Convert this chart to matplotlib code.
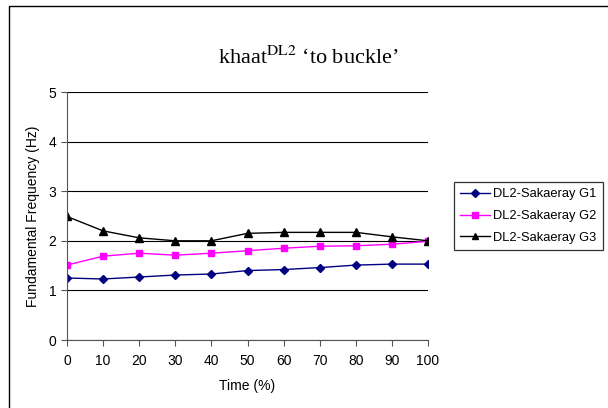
import matplotlib
matplotlib.use("Agg")
import matplotlib.pyplot as plt
from matplotlib.patches import Rectangle

time_pct = [0, 10, 20, 30, 40, 50, 60, 70, 80, 90, 100]
g1 = [1.25, 1.23, 1.27, 1.31, 1.33, 1.40, 1.42, 1.46, 1.51, 1.53, 1.53]
g2 = [1.51, 1.69, 1.75, 1.71, 1.75, 1.80, 1.85, 1.89, 1.90, 1.93, 1.99]
g3 = [2.49, 2.20, 2.06, 2.00, 2.00, 2.15, 2.17, 2.17, 2.17, 2.08, 2.00]
labels = ["DL2-Sakaeray G1", "DL2-Sakaeray G2", "DL2-Sakaeray G3"]

plt.rcParams['font.family'] = ['Liberation Sans', 'DejaVu Sans']

fig = plt.figure(figsize=(6.08, 4.08), dpi=100)
W, H = 608, 408
ax = fig.add_axes([67 / W, 1 - 340 / H, (428 - 67) / W, (340 - 92) / H])

# outer chart frame (right/bottom edges run off the image)
fig.patches.append(Rectangle((9 / W, -0.1), 1.2, 1.1 - 6 / H, transform=fig.transFigure,
                             fill=False, edgecolor='black', linewidth=1.0))

ax.plot(time_pct, g1, color='#000080', marker='D', markersize=4.5, linewidth=1.0, label=labels[0])
ax.plot(time_pct, g2, color='#FF00FF', marker='s', markersize=5, linewidth=1.0, label=labels[1])
ax.plot(time_pct, g3, color='black', marker='^', markersize=5.5, linewidth=1.0, label=labels[2])

ax.set_xlim(0, 100)
ax.set_ylim(0, 5)
ax.set_xticks(time_pct)
ax.set_yticks([0, 1, 2, 3, 4, 5])
ax.yaxis.grid(True, color='black', linewidth=0.8)
ax.set_axisbelow(True)
for s in ['top', 'right']:
    ax.spines[s].set_visible(False)
for s in ['left', 'bottom']:
    ax.spines[s].set_color('#555555')
ax.tick_params(axis='both', direction='out', length=4, color='#555555', labelsize=10)
ax.tick_params(axis='x', pad=6)
for sp in ax.spines.values():
    sp.set_clip_on(False)

ax.set_xlabel('Time (%)', fontsize=10, labelpad=8)
ax.set_ylabel('Fundamental Frequency (Hz)', fontsize=10, labelpad=6)

fig.text(308 / W, 1 - 58 / H, "khaat$^{\\mathrm{DL2}}$ \u2018to buckle\u2019",
         ha='center', va='center', fontsize=16, family=['Liberation Serif', 'DejaVu Serif'],
         math_fontfamily='stix')

leg = ax.legend(loc='upper left', bbox_to_anchor=(454 / W, 1 - 182 / H), bbox_transform=fig.transFigure,
                frameon=True, fancybox=False, edgecolor='black', fontsize=9.3,
                handlelength=2.3, borderpad=0.5, labelspacing=0.75, handletextpad=0.2,
                borderaxespad=0, markerscale=0.9)
leg.get_frame().set_linewidth(0.9)

fig.savefig('out.png', dpi=100)
